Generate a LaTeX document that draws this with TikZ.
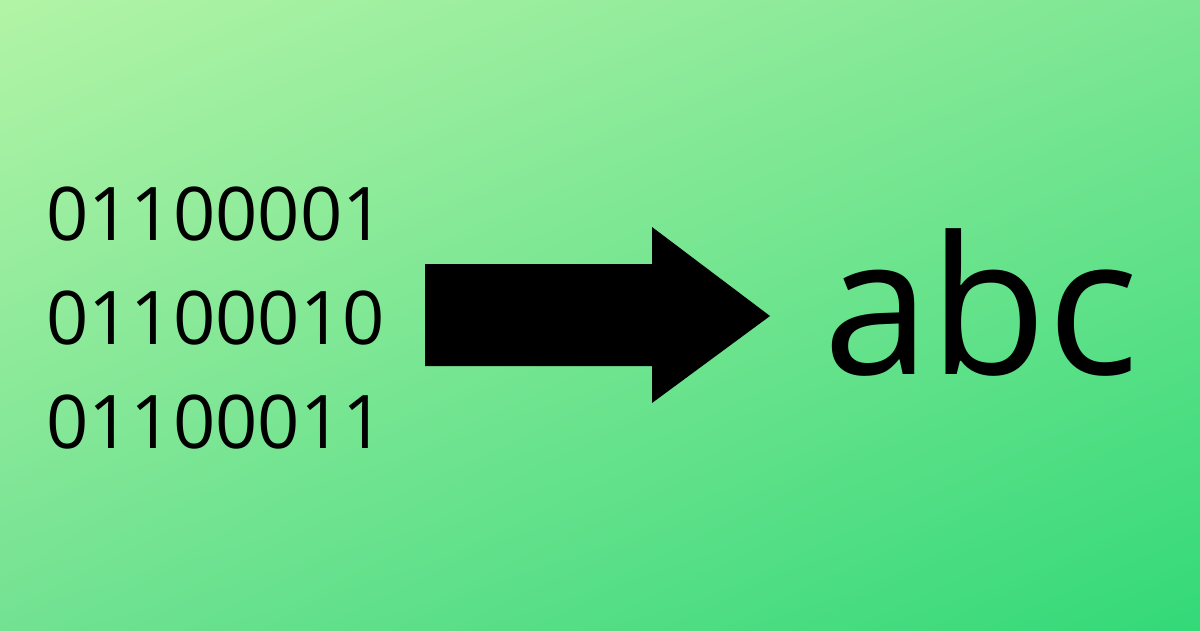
\documentclass[tikz,border=0pt]{standalone}
\usepackage{fontspec}
\setmainfont{Open Sans}
\usetikzlibrary{shadings}
\definecolor{cUL}{HTML}{B2F4A6}
\definecolor{cUR}{HTML}{7CE694}
\definecolor{cLL}{HTML}{72E292}
\definecolor{cLR}{HTML}{33D978}
\tikzset{
  bits/.style={anchor=base west, inner sep=0pt, font=\fontsize{74}{74}\selectfont, text=black},
  big/.style={anchor=base west, inner sep=0pt, font=\fontsize{192}{192}\selectfont, text=black},
}
\begin{document}
\begin{tikzpicture}[x=1pt,y=-1pt]
\useasboundingbox (0,0) rectangle (1200,630);
\shade[upper left=cUL, upper right=cUR, lower left=cLL, lower right=cLR] (0,0) rectangle (1200,630);
\node[bits] (b1) at (46,240) {01100001};
\node[bits] (b2) at (46,344) {01100010};
\node[bits] (b3) at (46,448) {01100011};
\fill[black] (425,264) -- (652,264) -- (652,227) -- (770,316) -- (652,403) -- (652,366) -- (425,366) -- cycle;
\node[big] (abc) at (823,374) {abc};
\end{tikzpicture}
\end{document}
